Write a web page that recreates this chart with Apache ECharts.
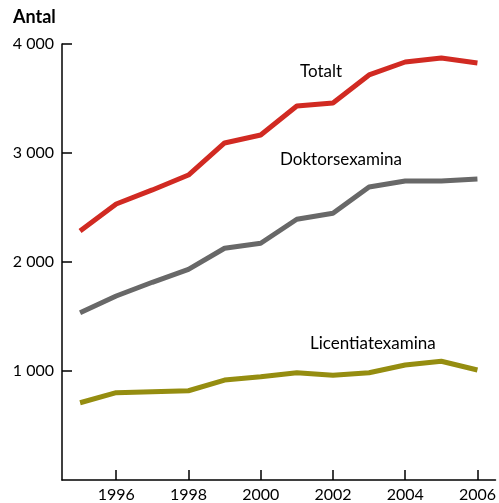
<!DOCTYPE html>
<html><head><meta charset="utf-8">
<script src="https://cdn.jsdelivr.net/npm/echarts@6/dist/echarts.min.js"></script>
<style>html,body{margin:0;padding:0;background:#fff}#c{width:499px;height:503px}</style>
</head><body><div id="c"></div>
<script>
const years = [1995,1996,1997,1998,1999,2000,2001,2002,2003,2004,2005,2006];
const totalt = [2284,2532,2661,2798,3092,3165,3431,3459,3716,3835,3872,3826];
const doktor = [1535,1688,1814,1933,2126,2172,2392,2447,2688,2743,2743,2761];
const licentiat = [709,801,810,819,917,948,984,960,984,1055,1089,1009];
const xTicks = [1996,1998,2000,2002,2004,2006];
const yTicks = [1000,2000,3000,4000];
const seriesNames = ['Totalt','Doktorsexamina','Licentiatexamina'];

const font = 'Lato, "Open Sans", sans-serif';
const chart = echarts.init(document.getElementById('c'));
const mk = (name, data, color) => ({
  name, type:'line', data: years.map((y,i)=>[y,data[i]]),
  symbol:'none', lineStyle:{width:5,color}, itemStyle:{color}, z:3
});
chart.setOption({
  animation:false,
  grid:{left:62,right:0,top:44,bottom:23,containLabel:false},
  xAxis:{type:'value',min:1994.5,max:2006.5,
    axisLine:{show:true,lineStyle:{color:'#000',width:1.5}},
    axisTick:{show:true,inside:true,length:10,customValues:xTicks,lineStyle:{color:'#000',width:1.5}},
    axisLabel:{customValues:xTicks,color:'#000',fontSize:16,fontFamily:font,margin:7,formatter:v=>String(v)},
    splitLine:{show:false}},
  yAxis:{type:'value',min:0,max:4000,
    axisLine:{show:true,lineStyle:{color:'#000',width:1.5}},
    axisTick:{show:true,inside:true,length:10,customValues:yTicks,lineStyle:{color:'#000',width:1.5}},
    axisLabel:{customValues:yTicks,color:'#000',fontSize:16,fontFamily:font,margin:8,
      formatter:v=>{const s=String(v);return s.length>3?s.slice(0,s.length-3)+' '+s.slice(-3):s;}},
    splitLine:{show:false}},
  series:[mk(seriesNames[0],totalt,'#d12a22'),mk(seriesNames[1],doktor,'#686868'),mk(seriesNames[2],licentiat,'#958d10')],
  graphic:[
    {type:'text',left:13,top:8,style:{text:'Antal',font:'bold 18px '+font,fill:'#000'}},
    {type:'text',left:300,top:63,style:{text:seriesNames[0],font:'17px '+font,fill:'#000'}},
    {type:'text',left:280,top:151,style:{text:seriesNames[1],font:'17px '+font,fill:'#000'}},
    {type:'text',left:310,top:335,style:{text:seriesNames[2],font:'17px '+font,fill:'#000'}}
  ]
});
</script></body></html>
